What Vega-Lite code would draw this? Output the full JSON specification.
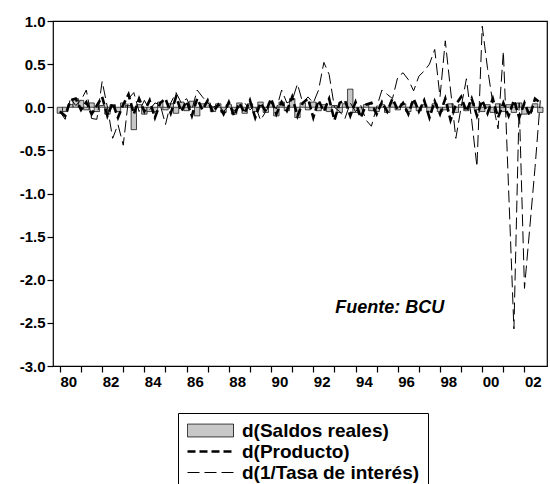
{
  "$schema": "https://vega.github.io/schema/vega-lite/v6.json",
  "width": 494,
  "height": 345,
  "autosize": {"type": "none"},
  "padding": {"left": 53, "top": 21, "right": 3, "bottom": 118},
  "background": "white",
  "config": {
    "view": {"stroke": "black", "strokeWidth": 1.2},
    "font": "Liberation Sans",
    "axis": {"grid": false, "domain": false, "tickColor": "black", "labelColor": "black", "labelFont": "Liberation Sans", "labelFontWeight": "bold", "labelFontSize": 15, "tickSize": 6, "tickWidth": 1.2}
  },
  "data": {"values": [
    {"t":1980.00,"saldos":-0.07,"producto":-0.05,"tasa":-0.05},
    {"t":1980.25,"saldos":-0.05,"producto":-0.10,"tasa":-0.14},
    {"t":1980.50,"saldos":0.03,"producto":0.08,"tasa":0.10},
    {"t":1980.75,"saldos":0.10,"producto":0.10,"tasa":0.02},
    {"t":1981.00,"saldos":0.08,"producto":-0.03,"tasa":0.08},
    {"t":1981.25,"saldos":-0.03,"producto":0.06,"tasa":0.20},
    {"t":1981.50,"saldos":0.05,"producto":-0.08,"tasa":-0.13},
    {"t":1981.75,"saldos":-0.05,"producto":0.02,"tasa":-0.14},
    {"t":1982.00,"saldos":0.02,"producto":0.12,"tasa":0.30},
    {"t":1982.25,"saldos":-0.08,"producto":-0.10,"tasa":0.00},
    {"t":1982.50,"saldos":0.03,"producto":0.05,"tasa":-0.36},
    {"t":1982.75,"saldos":-0.05,"producto":-0.12,"tasa":-0.20},
    {"t":1983.00,"saldos":0.05,"producto":0.03,"tasa":-0.44},
    {"t":1983.25,"saldos":0.02,"producto":0.15,"tasa":0.10},
    {"t":1983.50,"saldos":-0.26,"producto":-0.08,"tasa":0.17},
    {"t":1983.75,"saldos":0.03,"producto":0.10,"tasa":-0.05},
    {"t":1984.00,"saldos":-0.08,"producto":-0.05,"tasa":0.08},
    {"t":1984.25,"saldos":-0.05,"producto":0.08,"tasa":-0.03},
    {"t":1984.50,"saldos":-0.05,"producto":-0.12,"tasa":0.05},
    {"t":1984.75,"saldos":0.06,"producto":0.05,"tasa":0.03},
    {"t":1985.00,"saldos":-0.03,"producto":0.10,"tasa":-0.20},
    {"t":1985.25,"saldos":0.04,"producto":-0.07,"tasa":0.05},
    {"t":1985.50,"saldos":-0.07,"producto":0.12,"tasa":0.17},
    {"t":1985.75,"saldos":0.06,"producto":-0.05,"tasa":0.05},
    {"t":1986.00,"saldos":-0.04,"producto":0.07,"tasa":0.10},
    {"t":1986.25,"saldos":0.07,"producto":-0.10,"tasa":-0.03},
    {"t":1986.50,"saldos":-0.10,"producto":0.10,"tasa":0.20},
    {"t":1986.75,"saldos":0.04,"producto":-0.03,"tasa":0.12},
    {"t":1987.00,"saldos":0.05,"producto":0.08,"tasa":0.05},
    {"t":1987.25,"saldos":-0.05,"producto":-0.06,"tasa":0.00},
    {"t":1987.50,"saldos":0.04,"producto":0.03,"tasa":0.03},
    {"t":1987.75,"saldos":-0.06,"producto":-0.08,"tasa":-0.05},
    {"t":1988.00,"saldos":0.03,"producto":0.06,"tasa":0.02},
    {"t":1988.25,"saldos":-0.08,"producto":-0.10,"tasa":-0.04},
    {"t":1988.50,"saldos":0.05,"producto":0.05,"tasa":0.00},
    {"t":1988.75,"saldos":-0.07,"producto":-0.07,"tasa":0.05},
    {"t":1989.00,"saldos":0.04,"producto":0.08,"tasa":-0.03},
    {"t":1989.25,"saldos":-0.05,"producto":-0.12,"tasa":0.02},
    {"t":1989.50,"saldos":0.06,"producto":0.05,"tasa":-0.15},
    {"t":1989.75,"saldos":-0.06,"producto":-0.05,"tasa":-0.05},
    {"t":1990.00,"saldos":0.05,"producto":0.10,"tasa":0.05},
    {"t":1990.25,"saldos":-0.10,"producto":-0.08,"tasa":-0.02},
    {"t":1990.50,"saldos":0.06,"producto":0.06,"tasa":0.20},
    {"t":1990.75,"saldos":-0.04,"producto":-0.04,"tasa":0.05},
    {"t":1991.00,"saldos":0.10,"producto":0.12,"tasa":0.08},
    {"t":1991.25,"saldos":-0.12,"producto":-0.10,"tasa":0.27},
    {"t":1991.50,"saldos":0.05,"producto":0.05,"tasa":0.05},
    {"t":1991.75,"saldos":-0.03,"producto":0.10,"tasa":0.12},
    {"t":1992.00,"saldos":0.06,"producto":-0.12,"tasa":0.05},
    {"t":1992.25,"saldos":-0.04,"producto":0.08,"tasa":0.20},
    {"t":1992.50,"saldos":0.03,"producto":-0.05,"tasa":0.52},
    {"t":1992.75,"saldos":-0.05,"producto":0.10,"tasa":0.38},
    {"t":1993.00,"saldos":0.02,"producto":-0.15,"tasa":0.00},
    {"t":1993.25,"saldos":-0.06,"producto":0.05,"tasa":-0.05},
    {"t":1993.50,"saldos":0.04,"producto":0.08,"tasa":-0.13},
    {"t":1993.75,"saldos":0.21,"producto":-0.10,"tasa":0.05},
    {"t":1994.00,"saldos":-0.06,"producto":0.06,"tasa":-0.05},
    {"t":1994.25,"saldos":-0.08,"producto":-0.12,"tasa":0.02},
    {"t":1994.50,"saldos":0.03,"producto":0.03,"tasa":-0.15},
    {"t":1994.75,"saldos":-0.04,"producto":0.05,"tasa":-0.22},
    {"t":1995.00,"saldos":-0.05,"producto":-0.08,"tasa":0.00},
    {"t":1995.25,"saldos":0.03,"producto":0.06,"tasa":0.20},
    {"t":1995.50,"saldos":-0.06,"producto":-0.05,"tasa":0.15},
    {"t":1995.75,"saldos":0.05,"producto":0.10,"tasa":0.10},
    {"t":1996.00,"saldos":-0.03,"producto":-0.03,"tasa":0.35},
    {"t":1996.25,"saldos":0.04,"producto":0.05,"tasa":0.40},
    {"t":1996.50,"saldos":-0.05,"producto":-0.08,"tasa":0.32},
    {"t":1996.75,"saldos":0.05,"producto":0.10,"tasa":0.19},
    {"t":1997.00,"saldos":-0.04,"producto":-0.05,"tasa":0.36},
    {"t":1997.25,"saldos":0.03,"producto":0.08,"tasa":0.42},
    {"t":1997.50,"saldos":-0.05,"producto":-0.12,"tasa":0.50},
    {"t":1997.75,"saldos":0.04,"producto":0.07,"tasa":0.67},
    {"t":1998.00,"saldos":-0.05,"producto":-0.08,"tasa":0.12},
    {"t":1998.25,"saldos":-0.03,"producto":0.10,"tasa":0.77},
    {"t":1998.50,"saldos":0.04,"producto":-0.15,"tasa":0.20},
    {"t":1998.75,"saldos":-0.06,"producto":0.03,"tasa":-0.36},
    {"t":1999.00,"saldos":0.03,"producto":0.12,"tasa":0.00},
    {"t":1999.25,"saldos":-0.04,"producto":-0.05,"tasa":0.33},
    {"t":1999.50,"saldos":0.05,"producto":0.10,"tasa":-0.15},
    {"t":1999.75,"saldos":-0.03,"producto":-0.10,"tasa":-0.69},
    {"t":2000.00,"saldos":-0.05,"producto":0.08,"tasa":0.94},
    {"t":2000.25,"saldos":0.03,"producto":-0.07,"tasa":0.45},
    {"t":2000.50,"saldos":-0.06,"producto":0.10,"tasa":0.05},
    {"t":2000.75,"saldos":0.04,"producto":-0.12,"tasa":-0.25},
    {"t":2001.00,"saldos":-0.05,"producto":0.05,"tasa":0.65},
    {"t":2001.25,"saldos":0.03,"producto":-0.10,"tasa":-0.96},
    {"t":2001.50,"saldos":-0.06,"producto":0.08,"tasa":-2.57},
    {"t":2001.75,"saldos":0.05,"producto":-0.12,"tasa":0.05},
    {"t":2002.00,"saldos":-0.08,"producto":0.05,"tasa":-2.10},
    {"t":2002.25,"saldos":-0.05,"producto":-0.10,"tasa":-1.40},
    {"t":2002.50,"saldos":0.04,"producto":0.10,"tasa":-0.70},
    {"t":2002.75,"saldos":-0.06,"producto":0.05,"tasa":0.08}
  ]},
  "encoding": {
    "x": {"field": "t", "type": "quantitative", "title": null,
      "scale": {"domain": [1979.91, 2002.83], "nice": false, "zero": false},
      "axis": {"values": [1980,1981,1982,1983,1984,1985,1986,1987,1988,1989,1990,1991,1992,1993,1994,1995,1996,1997,1998,1999,2000,2001,2002],
        "labelExpr": "datum.value % 2 == 0 ? slice(toString(datum.value), 2) : ''",
        "labelAlign": "left", "labelFlush": false, "labelOverlap": false, "labelPadding": 2}}
  },
  "layer": [
    {
      "mark": {"type": "bar", "size": 5.4, "fill": "#c8c8c8", "stroke": "black", "strokeWidth": 0.7},
      "encoding": {
        "y": {"field": "saldos", "type": "quantitative", "title": null,
          "scale": {"domain": [-3, 1], "nice": false, "zero": false},
          "axis": {"values": [-3,-2.5,-2,-1.5,-1,-0.5,0,0.5,1], "format": ".1f",
            "labelExpr": "replace(datum.label, '−', '-')", "labelPadding": 2}}
      }
    },
    {
      "mark": {"type": "rule", "color": "black", "strokeWidth": 1.2},
      "encoding": {"y": {"datum": 0, "type": "quantitative"}}
    },
    {
      "mark": {"type": "line", "color": "black", "strokeWidth": 2.6, "strokeCap": "butt"},
      "encoding": {
        "y": {"field": "producto", "type": "quantitative"},
        "strokeDash": {"datum": "producto", "type": "nominal",
          "scale": {"domain": ["saldos", "producto", "tasa"], "range": [[1, 0], [8, 4], [12, 5]]},
          "legend": {
            "title": null, "orient": "none", "legendX": 125, "legendY": 392,
            "direction": "vertical",
            "strokeColor": "black", "padding": 8, "fillColor": "white",
            "symbolSize": 2116, "symbolStrokeColor": "black", "symbolOffset": 15,
            "labelFont": "Liberation Sans", "labelFontWeight": "bold", "labelFontSize": 19, "labelColor": "black",
            "labelOffset": 22, "labelLimit": 0, "rowPadding": 1,
            "labelExpr": "datum.value == 'saldos' ? 'd(Saldos reales)' : datum.value == 'producto' ? 'd(Producto)' : 'd(1/Tasa de interés)'",
            "encode": {"symbols": {"update": {
              "shape": {"signal": "datum.value == 'saldos' ? 'M-1,-0.28H1V0.28H-1Z' : 'stroke'"},
              "fill": {"signal": "datum.value == 'saldos' ? '#c8c8c8' : 'transparent'"},
              "stroke": {"value": "black"},
              "strokeWidth": {"signal": "datum.value == 'producto' ? 2.6 : (datum.value == 'saldos' ? 0.8 : 1)"},
              "opacity": {"value": 1}
            }}}
          }}
      }
    },
    {
      "mark": {"type": "line", "color": "black", "strokeWidth": 1, "strokeCap": "butt"},
      "encoding": {
        "y": {"field": "tasa", "type": "quantitative"},
        "strokeDash": {"datum": "tasa", "type": "nominal"}
      }
    },
    {
      "data": {"values": [{"label": "Fuente: BCU", "t": 1993.04, "v": -2.39}]},
      "mark": {"type": "text", "align": "left", "baseline": "alphabetic", "font": "Liberation Sans", "fontSize": 18, "fontWeight": "bold", "fontStyle": "italic", "color": "black"},
      "encoding": {
        "x": {"field": "t", "type": "quantitative"},
        "y": {"field": "v", "type": "quantitative"},
        "text": {"field": "label"}
      }
    }
  ]
}
